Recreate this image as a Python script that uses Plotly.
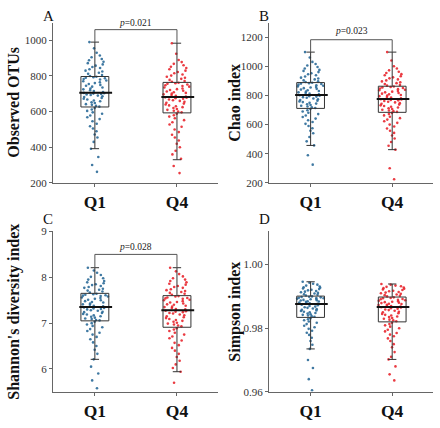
import plotly.graph_objects as go
from plotly.subplots import make_subplots

# ---------------- data ----------------
groups = ["Q1", "Q4"]
group_pos = [1, 2]

# Panel A: Observed OTUs
otu_pts_q1 = [800, 805, 812, 818, 825, 830, 838, 845, 850, 858, 865, 872, 880, 888, 895, 905, 915, 930, 955, 990,
              710, 715, 720, 725, 730, 735, 740, 745, 750, 755, 760, 765, 770, 775, 780, 783, 787, 790, 793, 796,
              628, 632, 638, 642, 648, 652, 658, 662, 668, 672, 677, 682, 686, 690, 693, 696, 699, 701, 703, 705,
              620, 612, 604, 596, 588, 578, 568, 558, 546, 532, 518, 505, 490, 472, 455, 430, 392, 345, 300, 262]
otu_pts_q4 = [768, 772, 778, 784, 790, 796, 802, 808, 815, 822, 830, 838, 845, 852, 860, 868, 878, 890, 925, 984,
              685, 689, 693, 697, 701, 705, 709, 713, 717, 721, 726, 730, 735, 740, 744, 748, 752, 756, 759, 762,
              596, 600, 605, 610, 615, 620, 625, 630, 635, 640, 645, 650, 655, 660, 664, 668, 672, 675, 678, 680,
              588, 580, 572, 563, 552, 540, 528, 515, 500, 485, 470, 455, 438, 420, 400, 380, 360, 335, 295, 255]
otu_lower = [392, 330]
otu_q1 = [626, 593]
otu_median = [706, 682]
otu_q3 = [797, 764]
otu_upper = [990, 984]

# Panel B: Chao index
chao_pts_q1 = [892, 897, 903, 910, 916, 922, 930, 938, 945, 952, 960, 968, 975, 985, 995, 1005, 1015, 1030, 1060, 1097,
               807, 812, 816, 821, 826, 830, 835, 840, 845, 850, 854, 858, 862, 866, 870, 874, 878, 881, 884, 887,
               714, 719, 724, 729, 734, 739, 744, 749, 754, 759, 764, 769, 774, 779, 784, 788, 792, 795, 798, 801,
               706, 698, 690, 681, 672, 662, 652, 641, 630, 618, 605, 590, 575, 558, 540, 515, 485, 457, 390, 325]
chao_pts_q4 = [867, 872, 878, 884, 890, 896, 903, 910, 917, 924, 931, 938, 946, 954, 962, 972, 985, 1000, 1040, 1097,
               780, 785, 790, 795, 799, 803, 808, 812, 817, 821, 826, 830, 835, 839, 843, 847, 851, 855, 858, 861,
               687, 692, 697, 702, 707, 712, 717, 722, 727, 732, 737, 742, 747, 752, 757, 762, 766, 769, 772, 774,
               680, 672, 663, 654, 644, 634, 623, 612, 600, 587, 573, 558, 543, 525, 505, 480, 455, 428, 300, 225]
chao_lower = [457, 428]
chao_q1 = [711, 684]
chao_median = [803, 776]
chao_q3 = [888, 863]
chao_upper = [1097, 1097]

# Panel C: Shannon's diversity index
shan_pts_q1 = [7.67, 7.69, 7.71, 7.73, 7.75, 7.77, 7.79, 7.81, 7.83, 7.85, 7.87, 7.89, 7.92, 7.95, 7.98, 8.01, 8.05, 8.10, 8.15, 8.21,
               7.37, 7.38, 7.40, 7.41, 7.43, 7.45, 7.46, 7.48, 7.50, 7.51, 7.53, 7.55, 7.56, 7.58, 7.59, 7.60, 7.61, 7.62, 7.63, 7.64,
               7.06, 7.07, 7.09, 7.10, 7.12, 7.14, 7.15, 7.17, 7.19, 7.20, 7.22, 7.24, 7.25, 7.27, 7.28, 7.30, 7.31, 7.32, 7.33, 7.34,
               7.03, 7.00, 6.97, 6.94, 6.91, 6.87, 6.83, 6.79, 6.75, 6.70, 6.65, 6.58, 6.50, 6.42, 6.33, 6.21, 6.05, 5.90, 5.75, 5.58]
shan_pts_q4 = [7.62, 7.64, 7.66, 7.68, 7.70, 7.72, 7.74, 7.77, 7.79, 7.81, 7.84, 7.86, 7.89, 7.92, 7.95, 7.98, 8.02, 8.07, 8.13, 8.21,
               7.30, 7.31, 7.33, 7.35, 7.36, 7.38, 7.40, 7.41, 7.43, 7.45, 7.46, 7.48, 7.50, 7.51, 7.53, 7.54, 7.55, 7.56, 7.58, 7.59,
               6.93, 6.95, 6.97, 6.99, 7.01, 7.03, 7.05, 7.07, 7.09, 7.11, 7.13, 7.15, 7.17, 7.19, 7.21, 7.22, 7.24, 7.25, 7.26, 7.27,
               6.89, 6.86, 6.83, 6.79, 6.75, 6.71, 6.67, 6.62, 6.57, 6.52, 6.46, 6.40, 6.33, 6.26, 6.18, 6.10, 6.02, 5.94, 5.70, 5.47]
shan_lower = [6.21, 5.94]
shan_q1 = [7.05, 6.91]
shan_median = [7.35, 7.28]
shan_q3 = [7.65, 7.60]
shan_upper = [8.21, 8.21]

# Panel D: Simpson index
simp_pts_q1 = [0.9903, 0.9905, 0.9907, 0.9909, 0.9911, 0.9913, 0.9915, 0.9917, 0.9919, 0.9921, 0.9923, 0.9925, 0.9927, 0.9929, 0.9931, 0.9934, 0.9937, 0.9940, 0.9943, 0.9946,
               0.9877, 0.9878, 0.9880, 0.9881, 0.9883, 0.9884, 0.9885, 0.9887, 0.9888, 0.9889, 0.9891, 0.9892, 0.9893, 0.9894, 0.9895, 0.9896, 0.9897, 0.9898, 0.9899, 0.9900,
               0.9836, 0.9838, 0.9840, 0.9842, 0.9844, 0.9846, 0.9848, 0.9850, 0.9852, 0.9854, 0.9856, 0.9858, 0.9860, 0.9862, 0.9864, 0.9866, 0.9868, 0.9870, 0.9872, 0.9874,
               0.9831, 0.9828, 0.9825, 0.9821, 0.9817, 0.9813, 0.9808, 0.9803, 0.9798, 0.9792, 0.9786, 0.9779, 0.9770, 0.9760, 0.9748, 0.9735, 0.9700, 0.9675, 0.9640, 0.9605]
simp_pts_q4 = [0.9900, 0.9902, 0.9904, 0.9906, 0.9908, 0.9910, 0.9912, 0.9914, 0.9916, 0.9918, 0.9920, 0.9922, 0.9924, 0.9926, 0.9928, 0.9930, 0.9932, 0.9934, 0.9937, 0.9939,
               0.9868, 0.9870, 0.9871, 0.9873, 0.9874, 0.9876, 0.9877, 0.9879, 0.9880, 0.9882, 0.9883, 0.9885, 0.9886, 0.9888, 0.9889, 0.9891, 0.9892, 0.9894, 0.9895, 0.9897,
               0.9822, 0.9825, 0.9827, 0.9830, 0.9832, 0.9835, 0.9837, 0.9840, 0.9842, 0.9845, 0.9847, 0.9850, 0.9852, 0.9855, 0.9857, 0.9859, 0.9861, 0.9863, 0.9865, 0.9866,
               0.9817, 0.9813, 0.9809, 0.9805, 0.9800, 0.9795, 0.9790, 0.9785, 0.9780, 0.9775, 0.9768, 0.9760, 0.9750, 0.9740, 0.9725, 0.9710, 0.9702, 0.9680, 0.9655, 0.9636]
simp_lower = [0.9735, 0.9702]
simp_q1 = [0.9834, 0.9820]
simp_median = [0.9876, 0.9867]
simp_q3 = [0.9901, 0.9898]
simp_upper = [0.9946, 0.9939]

panel_letters = ["A", "B", "C", "D"]
y_titles = ["Observed OTUs", "Chao index", "Shannon's diversity index", "Simpson index"]
p_labels = ["0.021", "0.023", "0.028", None]
y_tickvals = [[200, 400, 600, 800, 1000], [200, 400, 600, 800, 1000, 1200], [6, 7, 8, 9], [0.96, 0.98, 1.00]]

# ---------------- styling / layout ----------------
point_colors = ["#2b6a98", "#e8262d"]
FONT = "Liberation Serif"
W, H = 440, 428

panels = [
    dict(pts=[otu_pts_q1, otu_pts_q4], lo=otu_lower, q1=otu_q1, med=otu_median, q3=otu_q3, hi=otu_upper,
         yrange=[200, 1100], bracket_y=1060, ptext_y=1098, fmt=None),
    dict(pts=[chao_pts_q1, chao_pts_q4], lo=chao_lower, q1=chao_q1, med=chao_median, q3=chao_q3, hi=chao_upper,
         yrange=[200, 1300], bracket_y=1182, ptext_y=1240, fmt=None),
    dict(pts=[shan_pts_q1, shan_pts_q4], lo=shan_lower, q1=shan_q1, med=shan_median, q3=shan_q3, hi=shan_upper,
         yrange=[5.5, 9.0], bracket_y=8.5, ptext_y=8.66, fmt=None),
    dict(pts=[simp_pts_q1, simp_pts_q4], lo=simp_lower, q1=simp_q1, med=simp_median, q3=simp_q3, hi=simp_upper,
         yrange=[0.96, 1.0104], bracket_y=None, ptext_y=None, fmt=".2f"),
]

# pixel geometry of the four plot areas: (left, right, top, bottom)
px_boxes = [(53, 218, 17, 182), (269, 433, 17, 182), (53, 218, 232, 397), (269, 433, 232, 397)]
rowcol = [(1, 1), (1, 2), (2, 1), (2, 2)]

fig = make_subplots(rows=2, cols=2)

box_w = 0.34
annotations = []
for i, p in enumerate(panels):
    r, c = rowcol[i]
    for g in range(2):
        vals = p["pts"][g]
        fig.add_trace(go.Box(
            x=[group_pos[g]] * len(vals), y=vals, boxpoints="all", jitter=1, pointpos=0,
            width=box_w, line=dict(width=0), fillcolor="rgba(0,0,0,0)",
            marker=dict(color=point_colors[g], size=2.6, opacity=0.9),
            showlegend=False, hoverinfo="y"), row=r, col=c)
    fig.add_trace(go.Box(
        x=group_pos, q1=p["q1"], median=p["med"], q3=p["q3"],
        lowerfence=p["lo"], upperfence=p["hi"], boxpoints=False,
        width=box_w, whiskerwidth=0.3, line=dict(color="#333333", width=1),
        fillcolor="rgba(0,0,0,0)", showlegend=False), row=r, col=c)
    for g in range(2):
        fig.add_trace(go.Scatter(
            x=[group_pos[g] - 0.19, group_pos[g] + 0.21], y=[p["med"][g], p["med"][g]],
            mode="lines", line=dict(color="#111111", width=2), showlegend=False,
            hoverinfo="skip"), row=r, col=c)
    if p["bracket_y"] is not None:
        fig.add_trace(go.Scatter(
            x=[group_pos[0], group_pos[0], group_pos[1], group_pos[1]],
            y=[p["hi"][0], p["bracket_y"], p["bracket_y"], p["hi"][1]],
            mode="lines", line=dict(color="#555555", width=1), showlegend=False,
            hoverinfo="skip"), row=r, col=c)
        xref = "x" if i == 0 else f"x{i+1}"
        yref = "y" if i == 0 else f"y{i+1}"
        annotations.append(dict(
            x=(group_pos[0] + group_pos[1]) / 2, y=p["ptext_y"], xref=xref, yref=yref,
            text=f"<i>p</i>={p_labels[i]}", showarrow=False,
            font=dict(family=FONT, size=9.5, color="#222222")))

    left, right, top, bottom = px_boxes[i]
    fig.update_xaxes(
        domain=[left / W, right / W], range=[0.49, 2.5],
        tickvals=group_pos, ticktext=[f"<b>{g}</b>" for g in groups],
        showline=True, linecolor="#666666", linewidth=1,
        ticks="outside", ticklen=3, tickcolor="#666666", showgrid=False, zeroline=False,
        tickfont=dict(family=FONT, size=17.5, color="#111111"), row=r, col=c)
    fig.update_yaxes(
        domain=[1 - bottom / H, 1 - top / H], range=p["yrange"],
        tickvals=y_tickvals[i], tickformat=p["fmt"], showline=True, linecolor="#666666",
        linewidth=1, ticks="outside", ticklen=3, tickcolor="#666666", showgrid=False,
        zeroline=False, tickfont=dict(family=FONT, size=11, color="#333333"), row=r, col=c)

    # y-axis title
    title_x = 14 if c == 1 else 235
    annotations.append(dict(
        x=title_x / W, y=1 - (top + bottom) / 2 / H, xref="paper", yref="paper",
        text=f"<b>{y_titles[i]}</b>", textangle=-90, showarrow=False,
        xanchor="center", yanchor="middle",
        font=dict(family=FONT, size=16, color="#111111")))
    # panel letter
    letter_x = 48 if c == 1 else 264
    letter_y = 10 if r == 1 else 219
    annotations.append(dict(
        x=letter_x / W, y=1 - letter_y / H, xref="paper", yref="paper",
        text=panel_letters[i], showarrow=False, xanchor="center", yanchor="middle",
        font=dict(family=FONT, size=15, color="#111111")))

fig.update_layout(
    width=W, height=H, margin=dict(l=0, r=0, t=0, b=0),
    paper_bgcolor="white", plot_bgcolor="white", boxmode="overlay",
    showlegend=False, annotations=annotations)

fig.write_html("out.html", config={"displayModeBar": False},
               post_script="document.body.style.margin='0';")
